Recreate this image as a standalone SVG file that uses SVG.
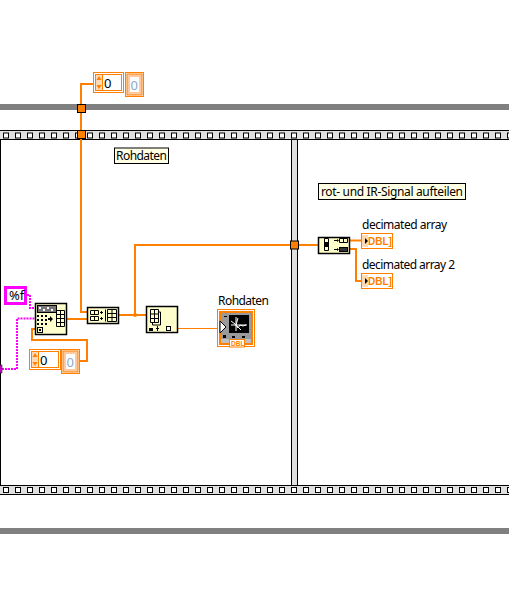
<svg xmlns="http://www.w3.org/2000/svg" width="509" height="599" viewBox="0 0 509 599">
<style>
text{font-family:"Noto Sans","Liberation Sans",sans-serif;font-size:12px;fill:#000}
.band{fill:#808080}
.w{fill:none;stroke:#ff8000;stroke-width:2}
.wt{fill:none;stroke:#ff8000;stroke-width:1}
.p{fill:none;stroke:#ff00ff;stroke-width:2;stroke-dasharray:2 1}
.tun{fill:#ff8000;stroke:#000;stroke-width:1}
.node{fill:#ffffcc;stroke:#000;stroke-width:1.5}
.lbl{fill:#ffffe6;stroke:#000;stroke-width:1}
.box{fill:#fff;stroke:#ff8000;stroke-width:1}
.g{fill:none;stroke:#000;stroke-width:1}
.k{fill:#000}
.num{font-size:13px}
.gh{font-size:13px;fill:#8aa9c9}
.dbl{font-family:"Liberation Sans",sans-serif;font-size:10px;font-weight:bold;fill:#ff8000}
</style>
<defs>
<pattern id="film" patternUnits="userSpaceOnUse" x="0" y="130" width="12" height="10">
<rect width="12" height="10" fill="#e0e0e0"/>
<rect x="3.500" y="3" width="5" height="5" fill="#fff" stroke="#000"/>
</pattern>
<pattern id="film2" patternUnits="userSpaceOnUse" x="0" y="485" width="12" height="10">
<rect width="12" height="10" fill="#e0e0e0"/>
<rect x="3.500" y="2.500" width="5" height="5" fill="#fff" stroke="#000"/>
</pattern>
</defs>
<g id="frame">
<rect class="band" x="0" y="104" width="509" height="6"/>
<rect class="band" x="0" y="528" width="509" height="6"/>
<rect x="-1" y="130.500" width="511" height="9" fill="url(#film)" stroke="#000"/>
<rect x="-1" y="485.500" width="511" height="9" fill="url(#film2)" stroke="#000"/>
<rect x="291.500" y="139.500" width="6" height="346" fill="#e0e0e0" stroke="#000"/>
<rect x="0" y="139" width="1" height="346" fill="#000"/>
</g>
<g id="connectors">
<path class="w" d="M93 84H81V312H87"/>
<path class="w" d="M67 319H87"/>
<path class="w" d="M119 315H146"/>
<path class="w" d="M135 315V245H318"/>
<circle cx="135" cy="315" r="2" fill="#ff8000"/>
<path class="wt" d="M178 328.500H219"/>
<path class="w" d="M35 329H32V340H87V361H80"/>
<path class="w" d="M350 240.500H361"/>
<path class="w" d="M350 249H356V281H361"/>
<path class="p" d="M27 295H30V308H35"/>
<path class="p" d="M2 369H17V318.500H35"/>
<rect x="0" y="365" width="2" height="8" fill="#ff00ff" stroke="#000" stroke-width=".5"/>
<rect class="tun" x="77.500" y="104.500" width="8" height="8"/>
<rect class="tun" x="77.500" y="130.500" width="8" height="8"/>
<rect class="tun" x="290.500" y="241" width="8" height="8"/>
</g>
<g id="ctrl-top">
<rect class="box" x="93.500" y="72.500" width="30" height="20"/>
<rect class="box" x="95.500" y="74.500" width="26" height="16"/>
<rect x="96" y="75" width="6" height="15" fill="#ffd9b3"/>
<path d="M99 76l2.500 4h-5zM99 89l2.500-4h-5z" fill="#ff8000"/>
<line x1="102.500" y1="75" x2="102.500" y2="90" stroke="#ff8000"/>
<text class="num" x="104" y="87.500">0</text>
</g>
<g id="ind-top">
<rect class="box" x="125.500" y="72.500" width="18" height="24"/>
<rect x="127" y="74" width="15" height="21" fill="#ffc9a0" stroke="#ff8000"/>
<rect x="130" y="77" width="9" height="15" fill="#fff"/>
<text class="gh" x="130.500" y="89.500">0</text>
</g>
<g id="label-rohdaten">
<rect class="lbl" x="114.500" y="148" width="54" height="15.500"/>
<text x="116" y="160" textLength="51">Rohdaten</text>
</g>
<g id="label-split">
<rect class="lbl" x="318.500" y="183.500" width="147" height="16"/>
<text x="321" y="196" textLength="142">rot- und IR-Signal aufteilen</text>
</g>
<g id="const-f">
<rect x="5.500" y="287.500" width="20" height="16" fill="#fff" stroke="#ff00ff" stroke-width="3"/>
<text x="9" y="300" style="font-size:13px">%f</text>
</g>
<g id="node-format">
<rect class="node" x="35.500" y="303.500" width="31" height="31"/>
<rect x="37.500" y="305.500" width="19" height="7" fill="#777" stroke="#000"/>
<path d="M39 307h2v2h-2zM43 309h2v2h-2zM47 307h2v2h-2zM51 309h2v2h-2z" fill="#fff"/>
<path class="k" d="M37 315h2v2h-2zM41 315h2v2h-2zM45 315h2v2h-2zM37 319h2v2h-2zM41 319h2v2h-2zM45 319h2v2h-2zM37 323h2v2h-2zM41 323h2v2h-2zM45 323h2v2h-2z"/>
<path class="k" d="M48 318h2v-2l3 3-3 3v-2h-2z"/>
<path class="g" d="M56.500 310.500h8v16h-8zM60.500 310.500v16M56.500 314.500h8M56.500 318.500h8M56.500 322.500h8"/>
<rect x="37.500" y="327.500" width="5" height="5" fill="none" stroke="#000"/>
<rect x="39" y="329" width="2" height="2" fill="#000"/>
</g>
<g id="node-build">
<rect class="node" x="87.500" y="307.500" width="31" height="16"/>
<path class="g" d="M90.500 310.500h8v4h-8zM90.500 316.500h8v4h-8zM94.500 310.500v4M94.500 316.500v4M105.500 309.500v12"/>
<path class="k" d="M100 312h3v1h-3zM101 311h1v3h-1zM100 318h3v1h-3zM101 317h1v3h-1z"/>
<path class="g" d="M107.500 309.500h9v12h-9zM112 309.500v12M107.500 313.500h9M107.500 317.500h9"/>
</g>
<g id="node-reshape">
<rect class="node" x="146.500" y="306.500" width="31" height="26"/>
<path class="g" d="M150.500 309.500h8v13h-8zM154.500 309.500v13M150.500 314h8M150.500 318.500h8M158.500 312h2v13h-8v-2.500"/>
<rect x="149" y="328" width="4" height="3" fill="#000"/>
<path class="k" d="M156 328h1v-2h1v2h1v1h-1v2h-1v-2h-1z"/>
<rect x="166.500" y="326.500" width="4" height="4" fill="#fff" stroke="#000"/>
</g>
<g id="label-graph"><text x="218" y="305" textLength="51">Rohdaten</text></g>
<g id="graph">
<rect class="box" x="217.500" y="309.500" width="37" height="37"/>
<rect x="220" y="312" width="32" height="32" fill="#c0c0c0" stroke="#ff8000" stroke-width="2"/>
<rect x="221" y="313" width="30" height="26" fill="#9a9a9a"/>
<rect x="229" y="315" width="20" height="18" fill="#000"/>
<path d="M236 317v14M231 325h16M231 321l4 3 3 4 2-3 3 1 3-1M238 318l-2 7 5 5" fill="none" stroke="#fff"/>
<path d="M220 321l6 6-6 6z" fill="#fff" stroke="#000"/>
<path class="k" d="M224 316h3v1h-3zM223 335h3v3h-3zM232 336h3v2h-3zM242 336h3v2h-3z"/>
<rect x="229.500" y="339.500" width="15" height="7.500" fill="#fff" stroke="#ff8000"/>
<text class="dbl" x="231" y="346" style="font-size:6.500px">DBL</text>
</g>
<g id="node-decimate">
<rect class="node" x="318.500" y="237.500" width="31" height="16"/>
<path class="g" d="M324.500 238.500h4v12h-4zM324.500 242.500h4M324.500 246.500h4"/>
<rect x="325" y="243" width="3" height="3" fill="#000"/>
<path class="k" d="M334 240h3v-1l2 1.500-2 1.500v-1h-3zM334 249h3v-1l2 1.500-2 1.500v-1h-3z"/>
<path class="g" d="M339.500 238.500h8v4h-8zM343.500 238.500v4"/>
<rect x="339.500" y="247.500" width="8" height="4" fill="#333" stroke="#000"/>
</g>
<g id="label-dec1"><text x="362" y="229" textLength="85">decimated array</text></g>
<g id="ind-dec1">
<rect class="box" x="361.500" y="233.500" width="31" height="15"/>
<rect x="362" y="235" width="6" height="12" fill="#ffd9b3"/>
<path d="M365 238l3 3-3 3z" fill="#000"/>
<text class="dbl" x="368" y="245">DBL]</text>
</g>
<g id="label-dec2"><text x="362" y="269" textLength="93">decimated array 2</text></g>
<g id="ind-dec2">
<rect class="box" x="361.500" y="273.500" width="31" height="15"/>
<rect x="362" y="275" width="6" height="12" fill="#ffd9b3"/>
<path d="M365 278l3 3-3 3z" fill="#000"/>
<text class="dbl" x="368" y="285">DBL]</text>
</g>
<g id="ctrl-bottom">
<rect class="box" x="29.500" y="349.500" width="31" height="20"/>
<rect class="box" x="31.500" y="351.500" width="27" height="16"/>
<rect x="32" y="352" width="6" height="15" fill="#ffd9b3"/>
<path d="M35 353l2.500 4h-5zM35 366l2.500-4h-5z" fill="#ff8000"/>
<line x1="38.500" y1="352" x2="38.500" y2="367" stroke="#ff8000"/>
<text class="num" x="40" y="364.500">0</text>
</g>
<g id="ind-bottom">
<rect class="box" x="61.500" y="349.500" width="18" height="24"/>
<rect x="63" y="351" width="15" height="21" fill="#ffc9a0" stroke="#ff8000"/>
<rect x="66" y="354" width="9" height="15" fill="#fff"/>
<text class="gh" x="66.500" y="366.500">0</text>
</g>
</svg>
